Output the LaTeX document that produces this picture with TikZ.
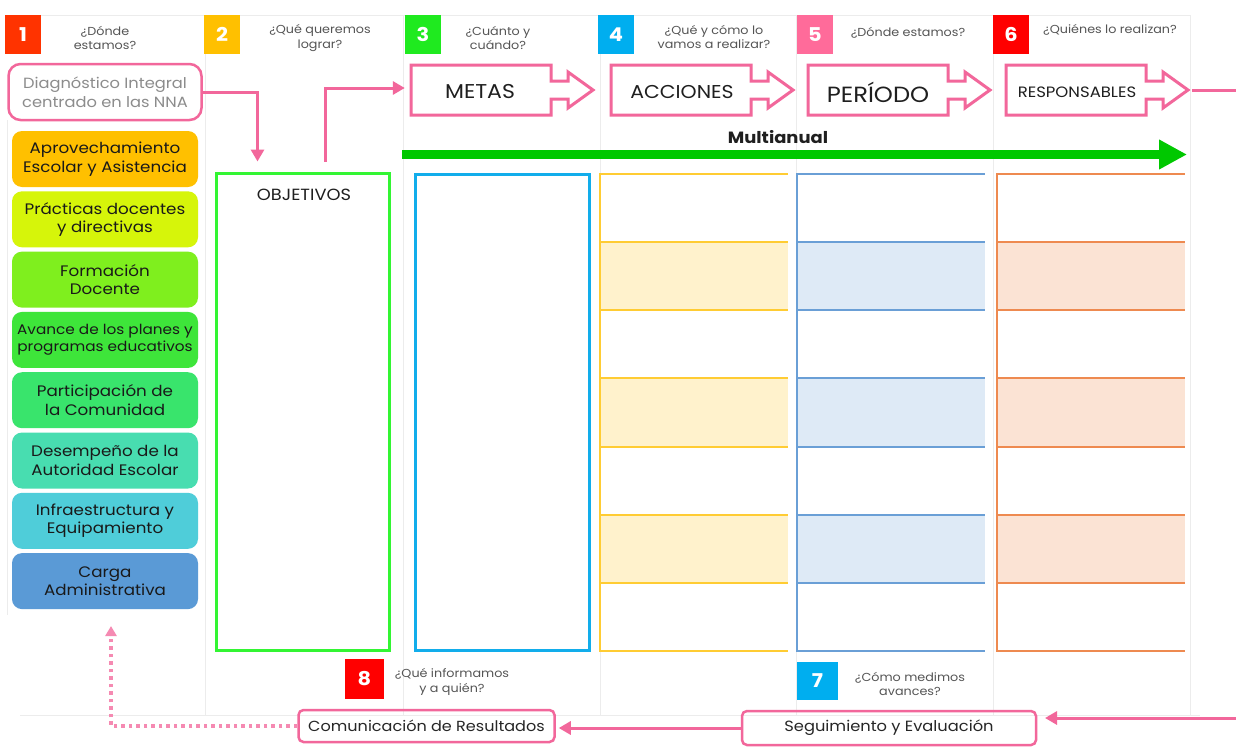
\documentclass[tikz,border=0pt]{standalone}
\usepackage{fontspec}
\setmainfont{Poppins}[FakeStretch=1.1]
\usetikzlibrary{arrows.meta,calc}
\definecolor{pk}{HTML}{F2679B}
\definecolor{pkd}{HTML}{F58AB2}
\definecolor{qgray}{HTML}{555555}
\definecolor{gridc}{HTML}{ECECEC}
\definecolor{cA}{HTML}{FFC000}
\definecolor{cB}{HTML}{D6F50A}
\definecolor{cC}{HTML}{7FEF1E}
\definecolor{cD}{HTML}{3EE53A}
\definecolor{cE}{HTML}{39E46C}
\definecolor{cF}{HTML}{48DDB0}
\definecolor{cG}{HTML}{4FCDD9}
\definecolor{cH}{HTML}{5A9AD6}
\definecolor{nRedO}{HTML}{FF3300}
\definecolor{nYel}{HTML}{FFC000}
\definecolor{nGrn}{HTML}{1FEA1F}
\definecolor{nBlu}{HTML}{00AEEF}
\definecolor{nPnk}{HTML}{FF6B9A}
\definecolor{nRed}{HTML}{FF0000}
\definecolor{objg}{HTML}{33F533}
\definecolor{metb}{HTML}{12ADEB}
\definecolor{yl}{HTML}{FFCC33}
\definecolor{ylf}{HTML}{FFF2CC}
\definecolor{bl}{HTML}{6A9FD6}
\definecolor{blf}{HTML}{DEEAF6}
\definecolor{orl}{HTML}{EE8A50}
\definecolor{orf}{HTML}{FBE3D4}
\definecolor{arrg}{HTML}{00C800}
\begin{document}
\begin{tikzpicture}[x=1pt,y=-1pt,
  numsq/.style={minimum width=36pt,minimum height=39pt,inner sep=0pt,text=white,font=\bfseries\fontsize{19}{20}\selectfont},
  qtext/.style={text=qgray,font=\fontsize{11.6}{14.5}\selectfont,align=center,inner sep=0pt},
  lbox/.style={rounded corners=10pt,minimum width=186pt,minimum height=56pt,inner sep=0pt,align=center,text=black!90,font=\fontsize{15.2}{18.5}\selectfont},
  pinkblk/.style={draw=pk,line width=3pt,fill=white},
  pinkarr/.style={draw=pk,line width=3pt,-{Triangle[length=12pt,width=13pt]}},
  gridl/.style={draw=gridc,line width=1pt},
  btext/.style={text=black!88,inner sep=0pt}]
\useasboundingbox (0,0) rectangle (1236,750);
\fill[white] (0,0) rectangle (1236,750);
% faint grid
\draw[gridl] (5,15) -- (1190,15);
\foreach \gx in {205,403,600,796,993,1190} {\draw[gridl] (\gx,15) -- (\gx,715);}
\draw[gridl] (7,120) -- (7,615);
\draw[gridl] (20,715) -- (1200,715);
% number squares
\node[numsq,fill=nRedO] (n1) at (23,34.5) {1};
\node[numsq,fill=nYel] (n2) at (222,34.5) {2};
\node[numsq,fill=nGrn] (n3) at (423,34.5) {3};
\node[numsq,fill=nBlu] (n4) at (616,34.5) {4};
\node[numsq,fill=nPnk] (n5) at (815,34.5) {5};
\node[numsq,fill=nRed] (n6) at (1011,34.5) {6};
\node[numsq,fill=nRed,minimum width=39pt,minimum height=40pt] (n8) at (364.5,679) {8};
\node[numsq,fill=nBlu,minimum width=41pt,minimum height=38pt] (n7) at (817.5,681) {7};
% question texts
\node[qtext] (q1) at (105,38) {¿Dónde\\estamos?};
\node[qtext] (q2) at (320,38) {¿Qué queremos\\lograr?};
\node[qtext] (q3) at (498,38) {¿Cuánto y\\cuándo?};
\node[qtext] (q4) at (714,37) {¿Qué y cómo lo\\vamos a realizar?};
\node[qtext] (q5) at (908,33) {¿Dónde estamos?};
\node[qtext] (q6) at (1110,30) {¿Quiénes lo realizan?};
\node[qtext] (q8) at (452,682) {¿Qué informamos\\y a quién?};
\node[qtext] (q7) at (910,684) {¿Cómo medimos\\avances?};
% diagnostico
\node[draw=pk,line width=2.5pt,rounded corners=12pt,minimum width=193pt,minimum height=56pt,inner sep=0pt,align=center,text=black!45,font=\fontsize{14.8}{18.5}\selectfont] (diag) at (105,92) {Diagnóstico Integral\\centrado en las NNA};
% left boxes
\node[lbox,fill=cA] (b1) at (105,159) {Aprovechamiento\\Escolar y Asistencia};
\node[lbox,fill=cB] (b2) at (105,219.3) {Prácticas docentes\\y directivas};
\node[lbox,fill=cC] (b3) at (105,279.6) {Formación\\Docente};
\node[lbox,fill=cD,font=\fontsize{13.9}{17.5}\selectfont] (b4) at (105,339.9) {Avance de los planes y\\programas educativos};
\node[lbox,fill=cE] (b5) at (105,400.2) {Participación de\\la Comunidad};
\node[lbox,fill=cF] (b6) at (105,460.5) {Desempeño de la\\Autoridad Escolar};
\node[lbox,fill=cG] (b7) at (105,520.8) {Infraestructura y\\Equipamiento};
\node[lbox,fill=cH] (b8) at (105,581.1) {Carga\\Administrativa};
% objetivos and metas boxes
\node[draw=objg,line width=3pt,minimum width=173pt,minimum height=477pt,inner sep=0pt] (obj) at (302.5,411.5) {};
\node[btext,font=\fontsize{16.2}{18}\selectfont] (objt) at (304,195) {OBJETIVOS};
\node[draw=metb,line width=3pt,minimum width=174pt,minimum height=476pt,inner sep=0pt] (met) at (502,412) {};
% tables
\foreach \tx/\lc/\fc in {600/yl/ylf,797/bl/blf,997/orl/orf} {
  \foreach \r in {1,3,5} {\fill[\fc] (\tx,174+68.14*\r) rectangle (\tx+188,174+68.14*\r+68.14);}
  \foreach \r in {0,...,7} {\draw[\lc,line width=2pt] (\tx-1,174+68.14*\r) -- (\tx+188,174+68.14*\r);}
  \draw[\lc,line width=2pt] (\tx,173) -- (\tx,652);
}
% block arrows
\foreach \bx/\bn in {411/metas,611/acc,808/per,1006/resp} {
  \draw[pinkblk] (\bx,65) -- ++(140,0) -- ++(0,16) -- ++(17,0) -- ++(0,-9) -- ++(25,18) -- ++(-25,18) -- ++(0,-9) -- ++(-17,0) -- ++(0,16) -- ++(-140,0) -- cycle;
  \node[minimum width=140pt,minimum height=50pt,inner sep=0pt] (\bn) at (\bx+70,90) {};
}
\node[btext,font=\fontsize{20}{22}\selectfont] (metast) at ([xshift=-1pt,yshift=-2pt]metas) {METAS};
\node[btext,font=\fontsize{18.6}{20}\selectfont] (acct) at ([xshift=1pt,yshift=-2pt]acc) {ACCIONES};
\node[btext,font=\fontsize{22}{24}\selectfont] (pert) at ([yshift=-2pt]per) {PERÍODO};
\node[btext,font=\fontsize{15}{17}\selectfont] (respt) at ([xshift=1pt,yshift=-2pt]resp) {RESPONSABLES};
\coordinate (rtipA) at (1192,90);
\coordinate (rtipB) at (1236,90);
\draw[pk,line width=3pt] (rtipA) -- (rtipB);
% multianual
\node[btext,font=\bfseries\fontsize{16.3}{18}\selectfont] (multi) at (778,137) {Multianual};
\coordinate (gA) at (402,154.5);
\coordinate (gB) at (1187,154.5);
\draw[arrg,line width=9pt,-{Triangle[length=28pt,width=28pt]}] (gA) -- (gB);
% connectors top
\draw[pinkarr] (diag.east) -| ($(obj.north west)+(43,-10)$);
\draw[pinkarr,shorten >=6pt] ($(obj.north west)+(111,-10)$) |- (metas.west |- 0,88);
% bottom boxes
\node[draw=pk,line width=2.5pt,rounded corners=5pt,minimum width=256pt,minimum height=32pt,inner sep=0pt,text=black!85,font=\fontsize{14.6}{16}\selectfont] (com) at (426.5,726) {Comunicación de Resultados};
\node[draw=pk,line width=2.5pt,rounded corners=5pt,minimum width=294pt,minimum height=34pt,inner sep=0pt,text=black!85,font=\fontsize{14.8}{16}\selectfont] (seg) at (889,728) {Seguimiento y Evaluación};
\coordinate (rin) at (1236,718);
\draw[pinkarr] (rin) -- (rin -| 1045,0);
\draw[pinkarr,shorten >=3pt] (seg.west) -- (seg.west -| com.east);
\coordinate (dtop) at (111,626);
\draw[pkd,line width=3.5pt,dash pattern=on 3.5pt off 4pt] (com.west) -| ($(dtop)+(0,9)$);
\draw[pkd,line width=3pt,-{Triangle[length=10pt,width=11pt]}] ($(dtop)+(0,10)$) -- (dtop);
\end{tikzpicture}
\end{document}
